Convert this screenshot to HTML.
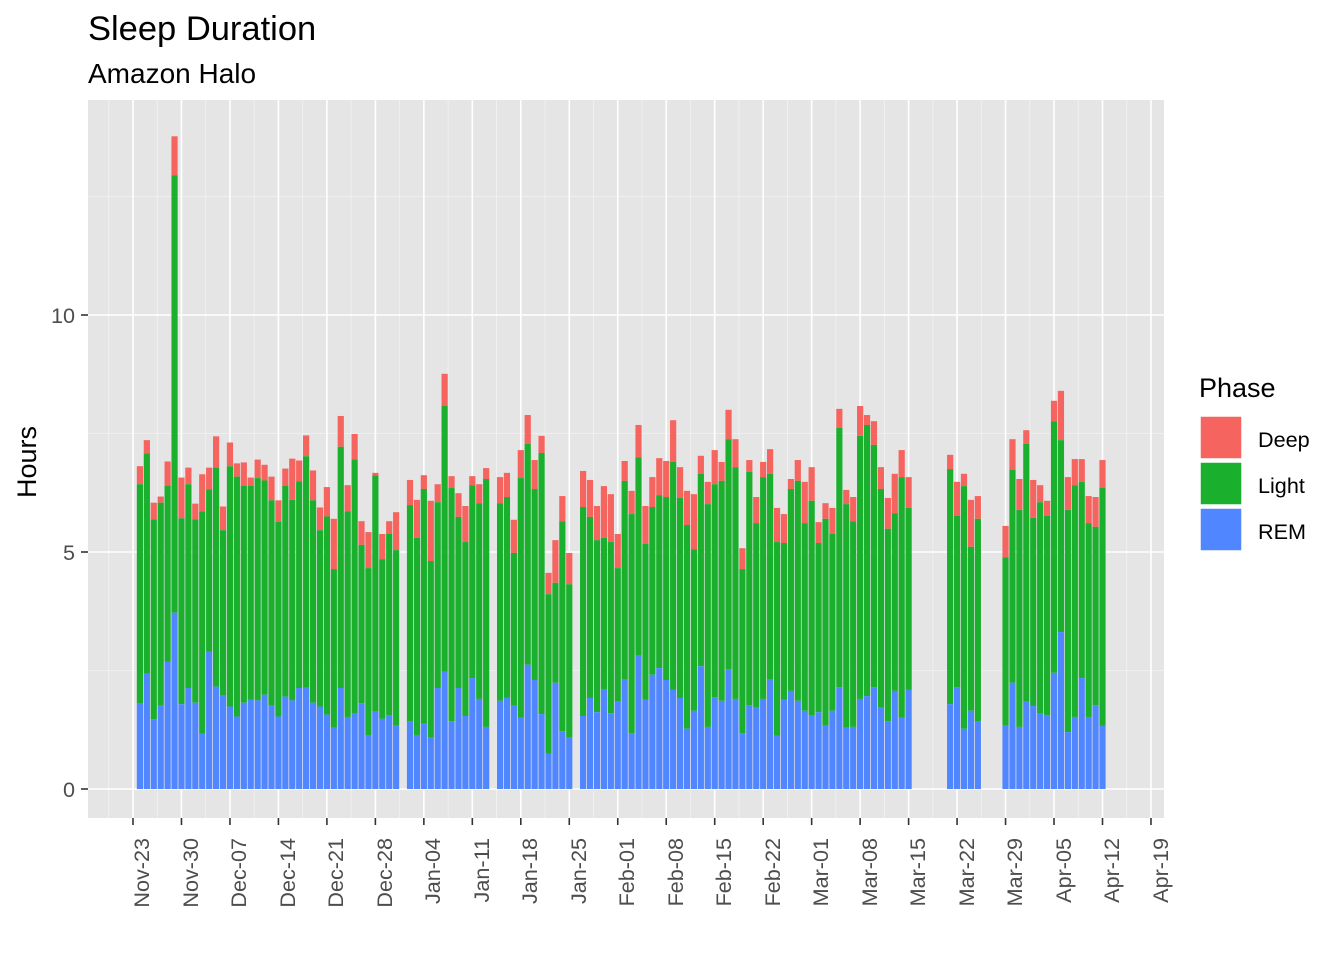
<!DOCTYPE html>
<html><head><meta charset="utf-8"><style>
body{margin:0;background:#fff;}
svg{display:block;font-family:"Liberation Sans",Arial,sans-serif;}
</style></head><body>
<svg id="s" width="1344" height="960" xmlns="http://www.w3.org/2000/svg">
<rect x="0" y="0" width="1344" height="960" fill="#fff"/>
<rect x="88" y="100" width="1076" height="718" fill="#e5e5e5"/>
<g id="grid"></g>
<g id="bars"></g>
<g id="ticks"></g>
<text x="88" y="40" font-size="34.5" fill="#000">Sleep Duration</text>
<text x="88" y="83" font-size="28" fill="#000">Amazon Halo</text>
<text transform="translate(36,462) rotate(-90)" text-anchor="middle" font-size="27" fill="#000">Hours</text>
<text x="75" y="797" text-anchor="end" font-size="21.6" fill="#4d4d4d">0</text>
<text x="75" y="560" text-anchor="end" font-size="21.6" fill="#4d4d4d">5</text>
<text x="75" y="323" text-anchor="end" font-size="21.6" fill="#4d4d4d">10</text>
<g font-size="21.6" fill="#4d4d4d" text-anchor="end">
<text transform="translate(149,838) rotate(-90)">Nov-23</text>
<text transform="translate(198,838) rotate(-90)">Nov-30</text>
<text transform="translate(246,838) rotate(-90)">Dec-07</text>
<text transform="translate(295,838) rotate(-90)">Dec-14</text>
<text transform="translate(343,838) rotate(-90)">Dec-21</text>
<text transform="translate(392,838) rotate(-90)">Dec-28</text>
<text transform="translate(440,838) rotate(-90)">Jan-04</text>
<text transform="translate(489,838) rotate(-90)">Jan-11</text>
<text transform="translate(537,838) rotate(-90)">Jan-18</text>
<text transform="translate(586,838) rotate(-90)">Jan-25</text>
<text transform="translate(634,838) rotate(-90)">Feb-01</text>
<text transform="translate(683,838) rotate(-90)">Feb-08</text>
<text transform="translate(731,838) rotate(-90)">Feb-15</text>
<text transform="translate(780,838) rotate(-90)">Feb-22</text>
<text transform="translate(828,838) rotate(-90)">Mar-01</text>
<text transform="translate(877,838) rotate(-90)">Mar-08</text>
<text transform="translate(925,838) rotate(-90)">Mar-15</text>
<text transform="translate(974,838) rotate(-90)">Mar-22</text>
<text transform="translate(1022,838) rotate(-90)">Mar-29</text>
<text transform="translate(1071,838) rotate(-90)">Apr-05</text>
<text transform="translate(1119,838) rotate(-90)">Apr-12</text>
<text transform="translate(1168,838) rotate(-90)">Apr-19</text>
</g>
<text x="1199" y="397" font-size="27" fill="#000">Phase</text>
<rect x="1200" y="416" width="42" height="43" fill="#F5645E" stroke="#fff" stroke-width="1.5"/>
<rect x="1200" y="462" width="42" height="43" fill="#1AB02E" stroke="#fff" stroke-width="1.5"/>
<rect x="1200" y="508" width="42" height="43" fill="#5086FF" stroke="#fff" stroke-width="1.5"/>
<text x="1258" y="447" font-size="21.6" fill="#000">Deep</text>
<text x="1258" y="493" font-size="21.6" fill="#000">Light</text>
<text x="1258" y="539" font-size="21.6" fill="#000">REM</text>
</svg>
<script>
var NS="http://www.w3.org/2000/svg";
function el(p,t,a){var e=document.createElementNS(NS,t);for(var k in a)e.setAttribute(k,a[k]);p.appendChild(e);return e;}
var X=function(d){return 133+d*6.925;};
var Y=function(h){return 789-h*47.4;};
var g=document.getElementById('grid');
[2.5,7.5,12.5].forEach(function(h){el(g,'line',{x1:88,x2:1164,y1:Y(h),y2:Y(h),stroke:'#f2f2f2','stroke-width':0.8});});
for(var d=-3.5;d<149;d+=7)el(g,'line',{x1:X(d),x2:X(d),y1:100,y2:818,stroke:'#f2f2f2','stroke-width':0.8});
[0,5,10].forEach(function(h){el(g,'line',{x1:88,x2:1164,y1:Y(h),y2:Y(h),stroke:'#fff','stroke-width':1.6});});
for(var d=0;d<149;d+=7)el(g,'line',{x1:X(d),x2:X(d),y1:100,y2:818,stroke:'#fff','stroke-width':1.6});
var t=document.getElementById('ticks');
[0,5,10].forEach(function(h){el(t,'line',{x1:81,x2:88,y1:Y(h),y2:Y(h),stroke:'#333','stroke-width':1.6});});
for(var d=0;d<149;d+=7)el(t,'line',{x1:X(d),x2:X(d),y1:818,y2:825,stroke:'#333','stroke-width':1.6});
var D=[
[1,6.81,6.43,1.80],[2,7.36,7.08,2.43],[3,6.04,5.69,1.47],[4,6.17,6.04,1.76],[5,6.91,6.40,2.69],[6,13.77,12.95,3.72],[7,6.57,5.71,1.79],[8,6.78,6.43,2.13],[9,6.02,5.69,1.82],[10,6.64,5.86,1.17],
[11,6.78,6.32,2.90],[12,7.44,6.78,2.16],[13,5.96,5.46,1.97],[14,7.31,6.81,1.74],[15,6.87,6.59,1.53],[16,6.89,6.40,1.82],[17,6.57,6.40,1.88],[18,6.95,6.56,1.87],[19,6.84,6.51,1.99],[20,6.59,6.09,1.76],
[21,6.09,5.64,1.53],[22,6.76,6.40,1.95],[23,6.97,6.10,1.87],[24,6.93,6.49,2.13],[25,7.46,7.02,2.14],[26,6.72,6.09,1.82],[27,5.94,5.46,1.74],[28,6.37,5.75,1.57],[29,5.70,4.64,1.29],[30,7.87,7.22,2.13],
[31,6.41,5.86,1.52],[32,7.49,6.95,1.59],[33,5.65,5.15,1.81],[34,5.42,4.66,1.14],[35,6.67,6.62,1.63],[36,5.38,4.85,1.48],[37,5.65,5.38,1.56],[38,5.84,5.04,1.35],
[40,6.52,5.99,1.42],[41,6.10,5.30,1.14],[42,6.62,6.33,1.38],[43,6.08,4.81,1.08],[44,6.43,6.05,2.13],[45,8.76,8.08,2.48],[46,6.60,6.35,1.43],[47,6.24,5.74,2.13],[48,5.97,5.21,1.54],[49,6.60,6.41,2.34],[50,6.43,6.03,1.90],[51,6.77,6.54,1.31],
[53,6.58,6.03,1.86],[54,6.67,6.16,1.93],[55,5.68,4.98,1.76],[56,7.15,6.56,1.50],[57,7.89,7.28,2.62],[58,6.94,6.33,2.30],[59,7.45,7.09,1.58],[60,4.56,4.11,0.74],[61,5.25,4.35,2.24],[62,6.18,5.65,1.22],[63,4.98,4.32,1.08],
[65,6.71,5.95,1.54],[66,6.52,5.74,1.92],[67,5.97,5.25,1.62],[68,6.39,5.30,2.11],[69,6.22,5.21,1.60],[70,5.38,4.66,1.84],[71,6.92,6.50,2.32],[72,6.29,5.80,1.18],[73,7.68,7.00,2.81],[74,5.97,5.17,1.88],
[75,6.58,5.95,2.41],[76,6.98,6.20,2.55],[77,6.92,6.16,2.30],[78,7.78,6.90,2.09],[79,6.79,6.14,1.92],[80,6.29,5.57,1.27],[81,6.22,5.06,1.65],[82,7.03,6.65,2.59],[83,6.48,6.01,1.31],[84,7.15,6.43,1.94],
[85,6.90,6.50,1.86],[86,8.00,7.38,2.53],[87,7.38,6.79,1.90],[88,5.08,4.64,1.18],[89,6.94,6.69,1.77],[90,6.16,5.61,1.73],[91,6.90,6.58,1.90],[92,7.17,6.65,2.32],[93,5.93,5.21,1.12],[94,5.80,5.19,1.88],
[95,6.54,6.33,2.07],[96,6.94,6.50,1.86],[97,6.48,5.61,1.65],[98,6.79,6.08,1.56],[99,5.63,5.19,1.62],[100,6.03,5.70,1.35],[101,5.93,5.38,1.65],[102,8.02,7.62,2.15],[103,6.31,6.01,1.29],[104,6.16,5.65,1.31],
[105,8.08,7.45,1.90],[106,7.89,7.68,1.96],[107,7.76,7.26,2.15],[108,6.79,6.33,1.73],[109,6.14,5.49,1.43],[110,6.65,5.82,2.07],[111,7.15,6.58,1.50],[112,6.58,5.93,2.09],
[118,7.05,6.75,1.79],[119,6.48,5.76,2.15],[120,6.65,6.39,1.27],[121,6.10,5.11,1.65],[122,6.18,5.70,1.42],
[126,5.55,4.89,1.35],[127,7.38,6.73,2.24],[128,6.54,5.89,1.31],[129,7.57,7.28,1.84],[130,6.52,5.72,1.75],[131,6.41,6.05,1.59],[132,6.08,5.76,1.56],[133,8.19,7.76,2.45],[134,8.40,7.36,3.31],[135,6.58,5.89,1.20],
[136,6.96,6.41,1.52],[137,6.96,6.48,2.34],[138,6.18,5.61,1.52],[139,6.16,5.53,1.77],[140,6.94,6.35,1.33]];
var b=document.getElementById('bars');var w=6.2;
D.forEach(function(r){var x=X(r[0])-w/2;
el(b,'rect',{x:x,y:Y(r[1]),width:w,height:Y(r[2])-Y(r[1]),fill:'#F5645E'});
el(b,'rect',{x:x,y:Y(r[2]),width:w,height:Y(r[3])-Y(r[2]),fill:'#1AB02E'});
el(b,'rect',{x:x,y:Y(r[3]),width:w,height:789-Y(r[3]),fill:'#5086FF'});});
</script>
</body></html>
